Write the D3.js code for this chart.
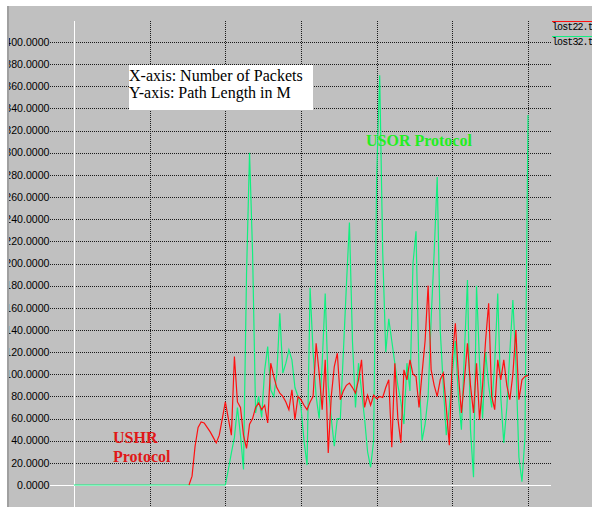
<!DOCTYPE html>
<html>
<head>
<meta charset="utf-8">
<script src="https://cdn.jsdelivr.net/npm/d3@7"></script>
<style>
  html, body { margin: 0; padding: 0; background: #ffffff; }
  svg { display: block; }
</style>
</head>
<body>
<svg id="chart" width="592" height="507"></svg>
<script>
// ---------------- data ----------------
const yTicks = [0, 20, 40, 60, 80, 100, 120, 140, 160, 180, 200, 220, 240, 260, 280, 300, 320, 340, 360, 380, 400];
const xGrid = [100, 200, 300, 400, 500, 600];
const seriesNames = ["lost22.tr", "lost32.tr"];
const seriesColors = ["#ff1010", "#10f080"];

// lost22 (USHR) path length, one value every 4 packets starting at packet 152
const ushrStart = 152;
const ushrStep = 4;
const ushrValues = [
  0, 8, 35, 52, 57, 56, 52, 48, 43, 38, 45, 60, 75, 60, 45, 116, 75, 70, 45, 33,
  55, 60, 70, 74, 68, 72, 56, 110, 98, 88, 83, 80, 75, 68, 86, 59, 80, 77, 72, 68,
  75, 80, 128, 101, 68, 113, 29, 80, 107, 119, 77, 85, 90, 92, 88, 83, 95, 113, 70, 81,
  72, 81, 78, 80, 79, 88, 95, 34, 110, 60, 38, 104, 95, 113, 100, 98, 70, 101, 130, 180,
  104, 90, 80, 95, 101, 70, 36, 116, 146, 100, 65, 95, 128, 90, 65, 110, 59, 90, 131, 164,
  80, 68, 113, 95, 113, 90, 77, 100, 140, 77, 95, 98, 99
];

// lost32 (USOR) path length: 0 from packet 0, then one value every 4 packets starting at packet 200
const usorStart = 200;
const usorStep = 4;
const usorValues = [
  0, 14, 29, 43, 70, 45, 14, 190, 300, 210, 65, 80, 61, 104, 125, 86, 80, 100, 155, 101,
  110, 122, 113, 88, 80, 70, 40, 18, 178, 120, 80, 60, 110, 173, 90, 60, 35, 60, 60, 120,
  180, 237, 130, 70, 110, 85, 60, 30, 16, 40, 280, 370, 210, 120, 150, 130, 110, 90, 75, 55,
  110, 85, 200, 229, 100, 40, 55, 80, 150, 210, 278, 140, 90, 45, 70, 100, 130, 80, 50, 120,
  185, 50, 7, 180, 110, 60, 120, 90, 70, 110, 173, 80, 38, 70, 120, 167, 110, 25, 3, 43,
  334
];

// ---------------- drawing ----------------
const svg = d3.select("#chart");
const W = 592, H = 507;

// window background
svg.append("rect").attr("x", 0).attr("y", 0).attr("width", W).attr("height", H).attr("fill", "#ffffff");
svg.append("rect").attr("x", 8).attr("y", 6).attr("width", W - 8).attr("height", H - 6).attr("fill", "#c0c0c0");

const x = d3.scaleLinear().domain([0, 600]).range([74, 528]);
const y = d3.scaleLinear().domain([0, 400]).range([485, 42]);

const gridLeft = 50, gridRight = 551, gridTop = 21, gridBottom = H;

// horizontal grid lines
svg.append("g").selectAll("line").data(yTicks.filter(d => d !== 0)).join("line")
  .attr("x1", gridLeft).attr("x2", gridRight)
  .attr("y1", d => Math.round(y(d)) + 0.5).attr("y2", d => Math.round(y(d)) + 0.5)
  .attr("stroke", "#1a1a1a").attr("stroke-width", 1).attr("stroke-dasharray", "1,1");

// vertical grid lines
svg.append("g").selectAll("line").data(xGrid).join("line")
  .attr("x1", d => Math.round(x(d)) + 0.5).attr("x2", d => Math.round(x(d)) + 0.5)
  .attr("y1", gridTop).attr("y2", gridBottom)
  .attr("stroke", "#1a1a1a").attr("stroke-width", 1).attr("stroke-dasharray", "1,1");

// zero axes (white)
svg.append("line")
  .attr("x1", Math.round(x(0)) + 0.5).attr("x2", Math.round(x(0)) + 0.5)
  .attr("y1", gridTop).attr("y2", gridBottom)
  .attr("stroke", "#ffffff").attr("stroke-width", 1);
svg.append("line")
  .attr("x1", gridLeft).attr("x2", gridRight)
  .attr("y1", Math.round(y(0)) + 0.5).attr("y2", Math.round(y(0)) + 0.5)
  .attr("stroke", "#ffffff").attr("stroke-width", 1);

// y tick labels
svg.append("g").selectAll("text").data(yTicks).join("text")
  .attr("x", 49.5).attr("y", d => y(d))
  .attr("dy", "0.35em")
  .attr("text-anchor", "end")
  .attr("font-family", "Liberation Sans, Arial, sans-serif")
  .attr("font-size", "10.6px")
  .attr("fill", "#000")
  .text(d => d3.format(".4f")(d));

// left window edge (covers the start of the wide labels, as in the original window)
svg.append("rect").attr("x", 0).attr("y", 0).attr("width", 7).attr("height", H).attr("fill", "#ffffff");
svg.append("rect").attr("x", 7).attr("y", 0).attr("width", 2).attr("height", H).attr("fill", "#a0a0a0");
svg.append("rect").attr("x", 0).attr("y", 0).attr("width", W).attr("height", 6).attr("fill", "#ffffff");

// series
const line = d3.line().x(d => x(d[0])).y(d => y(d[1]));
const usorPts = [[0, 0]].concat(usorValues.map((v, i) => [usorStart + i * usorStep, v]));
const ushrPts = ushrValues.map((v, i) => [ushrStart + i * ushrStep, v]);

svg.append("path").datum(usorPts).attr("d", line)
  .attr("fill", "none").attr("stroke", seriesColors[1]).attr("stroke-width", 1.2);
svg.append("path").datum(ushrPts).attr("d", line)
  .attr("fill", "none").attr("stroke", seriesColors[0]).attr("stroke-width", 1.2);

// legend
const legend = svg.append("g");
seriesNames.forEach((name, i) => {
  const ly = 21 + i * 15;
  legend.append("line").attr("x1", 552).attr("x2", W).attr("y1", ly + 0.5).attr("y2", ly + 0.5)
    .attr("stroke", seriesColors[i]).attr("stroke-width", 1);
  legend.append("text").attr("x", 552).attr("y", ly + 9)
    .attr("font-family", "Liberation Mono, Courier New, monospace")
    .attr("font-size", "10px").attr("letter-spacing", "-0.9px")
    .attr("fill", "#000").text(name);
});

// annotation box
svg.append("rect").attr("x", 129).attr("y", 65).attr("width", 184).attr("height", 45).attr("fill", "#ffffff");
const ann = svg.append("text").attr("font-family", "Liberation Serif, Times New Roman, serif")
  .attr("font-size", "16px").attr("fill", "#000");
ann.append("tspan").attr("x", 129).attr("y", 81).text("X-axis: Number of Packets");
ann.append("tspan").attr("x", 129).attr("y", 98).text("Y-axis: Path Length in M");

// protocol labels
svg.append("text").attr("x", 366).attr("y", 146)
  .attr("font-family", "Liberation Serif, Times New Roman, serif")
  .attr("font-size", "16px").attr("font-weight", "bold").attr("fill", "#22ee22")
  .text("USOR Protocol");
const ushrLbl = svg.append("text")
  .attr("font-family", "Liberation Serif, Times New Roman, serif")
  .attr("font-size", "16px").attr("font-weight", "bold").attr("fill", "#e01818");
ushrLbl.append("tspan").attr("x", 113).attr("y", 443).text("USHR");
ushrLbl.append("tspan").attr("x", 113).attr("y", 462).text("Protocol");
</script>
</body>
</html>
